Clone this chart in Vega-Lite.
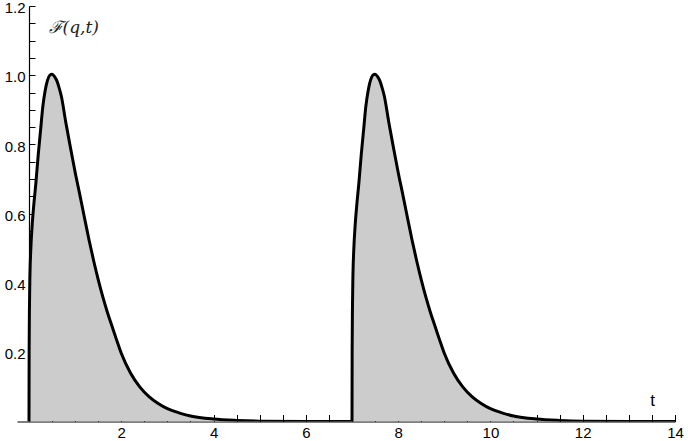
{
  "$schema": "https://vega.github.io/schema/vega-lite/v6.json",
  "autosize": {"type": "none"},
  "padding": {"left": 17, "top": 6, "right": 13, "bottom": 19.5},
  "width": 658,
  "height": 415.5,
  "background": "white",
  "config": {"view": {"stroke": null}},
  "data": {"values": [
    {"t": 0, "F": 0}, {"t": 0.003, "F": 0.2}, {"t": 0.01, "F": 0.33}, {"t": 0.02, "F": 0.42}, {"t": 0.04, "F": 0.5},
    {"t": 0.07, "F": 0.57}, {"t": 0.1, "F": 0.62}, {"t": 0.15, "F": 0.69}, {"t": 0.2, "F": 0.77}, {"t": 0.25, "F": 0.84},
    {"t": 0.3, "F": 0.91}, {"t": 0.35, "F": 0.955}, {"t": 0.4, "F": 0.985}, {"t": 0.45, "F": 1.0}, {"t": 0.5, "F": 1.003},
    {"t": 0.55, "F": 0.997}, {"t": 0.6, "F": 0.985}, {"t": 0.65, "F": 0.965}, {"t": 0.7, "F": 0.94}, {"t": 0.8, "F": 0.862},
    {"t": 0.9, "F": 0.79}, {"t": 1.0, "F": 0.72}, {"t": 1.1, "F": 0.656}, {"t": 1.2, "F": 0.59}, {"t": 1.3, "F": 0.525},
    {"t": 1.4, "F": 0.465}, {"t": 1.5, "F": 0.41}, {"t": 1.6, "F": 0.36}, {"t": 1.7, "F": 0.315}, {"t": 1.8, "F": 0.275},
    {"t": 1.9, "F": 0.235}, {"t": 2.0, "F": 0.197}, {"t": 2.2, "F": 0.14}, {"t": 2.4, "F": 0.1}, {"t": 2.6, "F": 0.072},
    {"t": 2.8, "F": 0.052}, {"t": 3.0, "F": 0.037}, {"t": 3.25, "F": 0.025}, {"t": 3.5, "F": 0.016}, {"t": 4.0, "F": 0.007},
    {"t": 4.5, "F": 0.003}, {"t": 5.0, "F": 0.001}, {"t": 6.0, "F": 0.0}, {"t": 6.999, "F": 0},
    {"t": 7.0, "F": 0}, {"t": 7.003, "F": 0.2}, {"t": 7.01, "F": 0.33}, {"t": 7.02, "F": 0.42}, {"t": 7.04, "F": 0.5},
    {"t": 7.07, "F": 0.57}, {"t": 7.1, "F": 0.62}, {"t": 7.15, "F": 0.69}, {"t": 7.2, "F": 0.77}, {"t": 7.25, "F": 0.84},
    {"t": 7.3, "F": 0.91}, {"t": 7.35, "F": 0.955}, {"t": 7.4, "F": 0.985}, {"t": 7.45, "F": 1.0}, {"t": 7.5, "F": 1.003},
    {"t": 7.55, "F": 0.997}, {"t": 7.6, "F": 0.985}, {"t": 7.65, "F": 0.965}, {"t": 7.7, "F": 0.94}, {"t": 7.8, "F": 0.862},
    {"t": 7.9, "F": 0.79}, {"t": 8.0, "F": 0.72}, {"t": 8.1, "F": 0.656}, {"t": 8.2, "F": 0.59}, {"t": 8.3, "F": 0.525},
    {"t": 8.4, "F": 0.465}, {"t": 8.5, "F": 0.41}, {"t": 8.6, "F": 0.36}, {"t": 8.7, "F": 0.315}, {"t": 8.8, "F": 0.275},
    {"t": 8.9, "F": 0.235}, {"t": 9.0, "F": 0.197}, {"t": 9.2, "F": 0.14}, {"t": 9.4, "F": 0.1}, {"t": 9.6, "F": 0.072},
    {"t": 9.8, "F": 0.052}, {"t": 10.0, "F": 0.037}, {"t": 10.25, "F": 0.025}, {"t": 10.5, "F": 0.016}, {"t": 11.0, "F": 0.007},
    {"t": 11.5, "F": 0.003}, {"t": 12.0, "F": 0.001}, {"t": 13.0, "F": 0.0}, {"t": 14.0, "F": 0}
  ]},
  "mark": {"type": "area", "color": "#cccccc", "opacity": 1, "interpolate": "monotone", "line": {"color": "black", "strokeWidth": 3, "strokeJoin": "round"}, "clip": true},
  "encoding": {
    "x": {
      "field": "t", "type": "quantitative",
      "scale": {"domain": [-0.26, 14.0], "nice": false, "zero": false},
      "axis": {
        "title": "t",
        "titleFont": "Liberation Sans", "titleFontSize": 17, "titleFontWeight": "normal", "titleColor": "black",
        "titleAngle": 0, "titleX": 635, "titleY": -21, "titleBaseline": "middle", "titleAlign": "center",
        "values": [0.5, 1, 1.5, 2, 2.5, 3, 3.5, 4, 4.5, 5, 5.5, 6, 6.5, 7, 7.5, 8, 8.5, 9, 9.5, 10, 10.5, 11, 11.5, 12, 12.5, 13, 13.5, 14],
        "labelExpr": "datum.value % 2 === 0 ? format(datum.value, 'd') : ''",
        "labelFont": "Liberation Sans", "labelFontSize": 15, "labelColor": "black", "labelPadding": 11,
        "labelBaseline": "top",
        "labelFlush": false, "labelOverlap": false,
        "tickSize": -7, "tickColor": "black", "tickWidth": 1,
        "domainColor": "black", "domainWidth": 1.2,
        "grid": false,
        "encode": {"ticks": {"update": {"y2": {"signal": "datum.value % 2 === 0 ? -7 : -4"}}}}
      }
    },
    "y": {
      "field": "F", "type": "quantitative",
      "scale": {"domain": [0, 1.2], "nice": false},
      "axis": {
        "title": "ℱ(q,t)",
        "titleFont": "DejaVu Serif", "titleFontSize": 17, "titleFontWeight": "normal", "titleFontStyle": "italic", "titleColor": "#222",
        "titleAngle": 0, "titleX": 19, "titleY": 21, "titleBaseline": "middle", "titleAlign": "left",
        "offset": -12,
        "values": [0.05, 0.1, 0.15, 0.2, 0.25, 0.3, 0.35, 0.4, 0.45, 0.5, 0.55, 0.6, 0.65, 0.7, 0.75, 0.8, 0.85, 0.9, 0.95, 1.0, 1.05, 1.1, 1.15, 1.2],
        "labelExpr": "abs(datum.value * 5 - round(datum.value * 5)) < 0.001 ? format(datum.value, '.1f') : ''",
        "labelFont": "Liberation Sans", "labelFontSize": 15, "labelColor": "black", "labelPadding": 10,
        "labelOffset": 1.5,
        "labelFlush": false, "labelOverlap": false,
        "tickSize": -6, "tickColor": "black", "tickWidth": 1,
        "domainColor": "black", "domainWidth": 1.2,
        "grid": false,
        "encode": {"ticks": {"update": {"x2": {"signal": "abs(datum.value * 5 - round(datum.value * 5)) < 0.001 ? 6 : 3.5"}}}}
      }
    }
  }
}
